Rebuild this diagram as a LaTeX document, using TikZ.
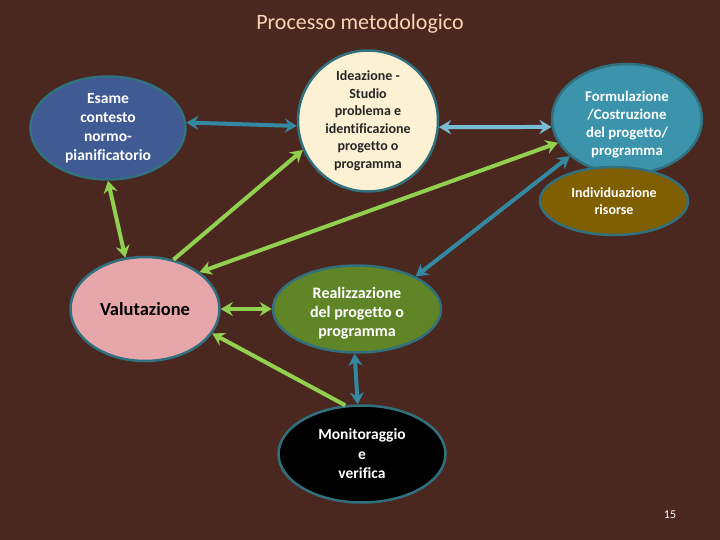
\documentclass[tikz,border=0pt]{standalone}
\usepackage{fontspec}
\setmainfont{Carlito}[Ligatures=NoCommon]
\usetikzlibrary{shapes.geometric,arrows.meta}
\definecolor{bg}{HTML}{4A2820}
\definecolor{titlec}{HTML}{FBD4B4}
\definecolor{rim}{HTML}{31707F}
\definecolor{esamef}{HTML}{405A93}
\definecolor{ideaf}{HTML}{FDF1D3}
\definecolor{formf}{HTML}{3B94AB}
\definecolor{indivf}{HTML}{7F5F00}
\definecolor{valf}{HTML}{E6A7AA}
\definecolor{realf}{HTML}{5F8527}
\definecolor{greenar}{HTML}{92D050}
\definecolor{tealar}{HTML}{3388A2}
\definecolor{lightar}{HTML}{78BCD3}
\tikzset{
  bubble/.style={ellipse, draw=rim, line width=2.5pt, inner sep=0pt, align=center, font=\bfseries\fontsize{14}{17.5}\selectfont},
  btext/.style={align=center, inner sep=0pt},
  conn/.style={line width=4pt, -{Stealth[length=12pt,width=14pt,inset=4pt]}},
  dconn/.style={line width=4pt, {Stealth[length=12pt,width=14pt,inset=4pt]}-{Stealth[length=12pt,width=14pt,inset=4pt]}},
}
\begin{document}
\begin{tikzpicture}[x=1pt,y=-1pt]
\fill[bg] (0,0) rectangle (720,540);
\useasboundingbox (0,0) rectangle (720,540);
\node (title) at (360,24) {\color{titlec}\fontsize{22}{25}\selectfont Processo metodologico};
\node (pg) at (670,515) {\color{white}\fontsize{12}{14}\selectfont 15};

\node[bubble, fill=esamef, text=white, minimum width=155pt, minimum height=103pt, font=\bfseries\fontsize{15.5}{19}\selectfont] (esame) at (108,128) {Esame\\contesto\\normo-\\pianificatorio};
\node[bubble, fill=ideaf, text=black!85, minimum width=140pt, minimum height=115pt] (idea) at (368,121) {Ideazione -\\Studio\\problema e\\identificazione\\progetto o\\programma};
\node[bubble, fill=formf, minimum width=150pt, minimum height=110pt] (form) at (627,119) {};
\node[btext, text=white, font=\bfseries\fontsize{14.8}{18}\selectfont] (formt) at (627,125) {Formulazione\\/Costruzione\\del progetto/\\programma};
\node[bubble, fill=indivf, text=white, minimum width=148pt, minimum height=68pt] (indiv) at (614,201) {Individuazione\\risorse};
\node[bubble, fill=valf, text=black, minimum width=149pt, minimum height=104pt, font=\bfseries\fontsize{18.5}{21}\selectfont] (val) at (145,309) {Valutazione};
\node[bubble, fill=realf, minimum width=168pt, minimum height=87pt] (real) at (357,309) {};
\node[btext, text=white, font=\bfseries\fontsize{16}{19}\selectfont] (realt) at (357,313) {Realizzazione\\del progetto o\\programma};
\node[bubble, fill=black, text=white, minimum width=167pt, minimum height=97pt, font=\bfseries\fontsize{15.5}{19.5}\selectfont] (mon) at (362,454) {Monitoraggio\\e\\verifica};

\draw[dconn, tealar] (esame.4) -- (idea.184);
\draw[dconn, lightar] (idea.-5) -- (form.186);
\draw[dconn, greenar] (esame.south) -- (val.111);
\draw[conn, greenar] (val.60) -- (idea.204);
\draw[dconn, greenar] (val.34) -- (form.199);
\draw[dconn, tealar] (form.213) -- (real.29);
\draw[dconn, greenar] (val.east) -- (real.west);
\draw[conn, greenar] (mon.109) -- (val.-20);
\draw[dconn, tealar] (real.-93) -- (mon.95);
\end{tikzpicture}
\end{document}
